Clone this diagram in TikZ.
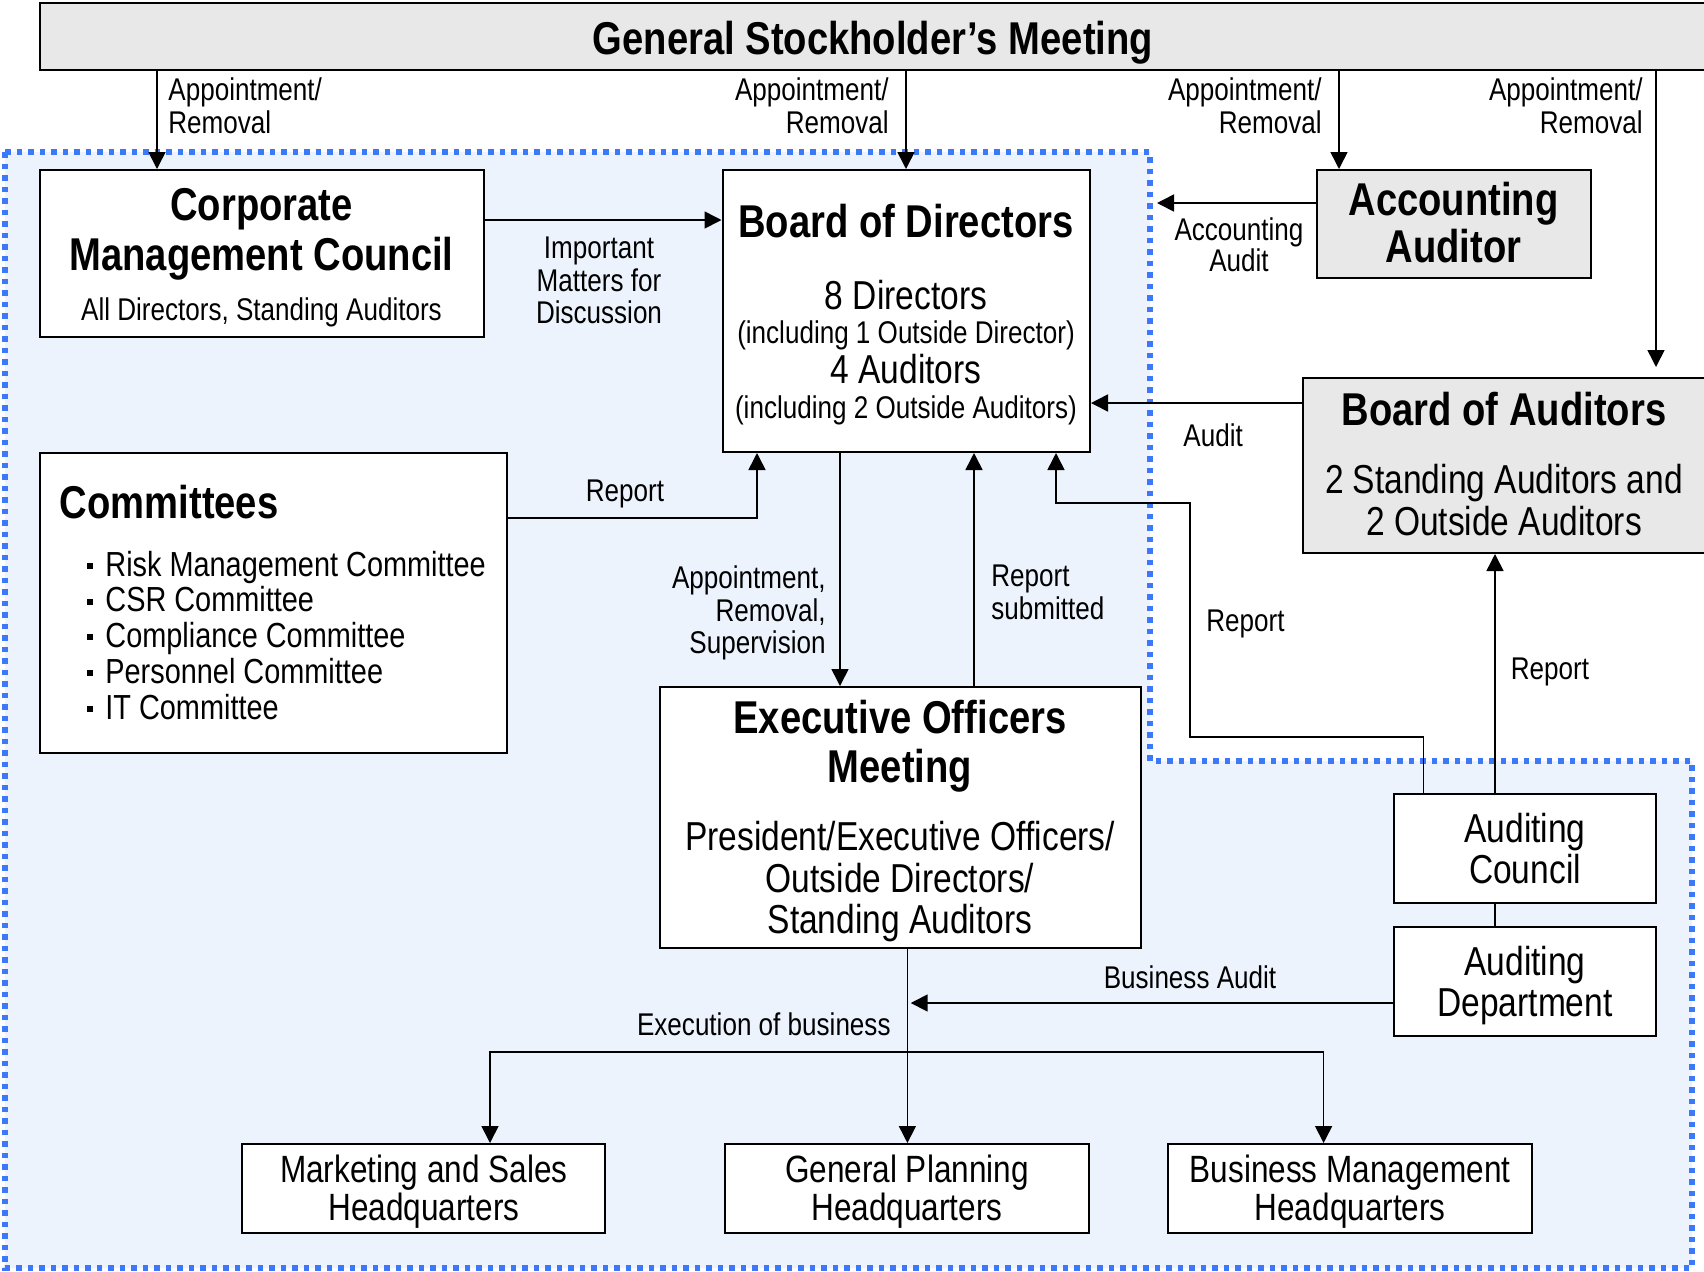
\documentclass[tikz,border=0pt]{standalone}
\usepackage{fontspec}
\setmainfont{Liberation Sans}[FakeStretch=0.83]
\usetikzlibrary{arrows.meta,fit}
\definecolor{dotblue}{RGB}{60,120,250}
\definecolor{regionfill}{RGB}{236,243,253}
\definecolor{boxgray}{RGB}{232,232,232}
\newcommand\ftitle{\fontsize{23}{24}\selectfont\bfseries}
\newcommand\flab{\fontsize{15.7}{16}\selectfont}
\newcommand\fmid{\fontsize{20.2}{20.5}\selectfont}
\newcommand\fbul{\fontsize{17.4}{18}\selectfont}
\newcommand\fhq{\fontsize{19}{19}\selectfont}
\newcommand\bul{\raisebox{3.6pt}{\rule{3pt}{3pt}}\hspace{6pt}}
\begin{document}
\begin{tikzpicture}[x=0.5pt,y=-0.5pt,
  box/.style={draw=black,line width=1pt,fill=white,rectangle,inner sep=0pt},
  graybox/.style={box,fill=boxgray},
  conn/.style={line width=0.8pt},
  arr/.style={conn,-{Triangle[length=8.5pt,width=8.5pt]}},
  tc/.style={inner sep=0pt,anchor=base},
  tl/.style={inner sep=0pt,anchor=base west},
  tr/.style={inner sep=0pt,anchor=base east}]
\clip (0,0) rectangle (1704,1271);
% region
\path[fill=regionfill] (5,152) -- (1150,152) -- (1150,761) -- (1692,761) -- (1692,1268) -- (5,1268) -- cycle;
\draw[dotblue,line width=2.75pt,dash pattern=on 2.75pt off 3pt] (5,152) -- (1150,152) -- (1150,761) -- (1692,761) -- (1692,1268) -- (5,1268) -- cycle;
% boxes
\node[graybox,fit={(40,3) (1720,70)}] (gsm) {};
\node[box,fit={(39.5,170) (483.5,337)}] (cmc) {};
\node[box,fit={(722.5,170) (1090,452)}] (bod) {};
\node[graybox,fit={(1316.5,170) (1590.5,278)}] (aa) {};
\node[graybox,fit={(1303,378) (1720,553)}] (boa) {};
\node[box,fit={(39.5,453) (507,753)}] (com) {};
\node[box,fit={(659.6,687) (1141,947.6)}] (eom) {};
\node[box,fit={(1394,794.4) (1656,903)}] (ac) {};
\node[box,fit={(1394,927) (1656,1035.6)}] (ad) {};
\node[box,fit={(242.3,1144) (605.3,1233)}] (mkt) {};
\node[box,fit={(724.8,1144) (1088.9,1233)}] (gp) {};
\node[box,fit={(1168.2,1144) (1532.2,1233)}] (bm) {};
% helper coordinates
\coordinate (xa) at (157,0);
\coordinate (xb) at (906,0);
\coordinate (xc) at (1339,0);
\coordinate (xd) at (1656,0);
\coordinate (ycmc) at (0,220);
\coordinate (aatip) at (1157,203);
\coordinate (yboa) at (0,403);
\coordinate (crep) at (757,518);
\coordinate (xdown) at (840,0);
\coordinate (xup) at (974,0);
\coordinate (r1) at (1423.6,737);
\coordinate (r2) at (1190,503);
\coordinate (xr3) at (1056,0);
\coordinate (xacb) at (1495,0);
\coordinate (batip) at (910.7,1003);
\coordinate (hx) at (907.4,1052);
\coordinate (hl) at (490,1052);
\coordinate (hr) at (1323.6,1052);
% connectors
\draw[arr] (gsm.south -| xa) -- (cmc.north -| xa);
\draw[arr] (gsm.south -| xb) -- (bod.north -| xb);
\draw[arr] (gsm.south -| xc) -- (aa.north -| xc);
\draw[arr,shorten >=5pt] (gsm.south -| xd) -- (boa.north -| xd);
\draw[arr] (cmc.east |- ycmc) -- (bod.west |- ycmc);
\draw[arr] (aa.west |- aatip) -- (aatip);
\draw[arr] (boa.west |- yboa) -- (bod.east |- yboa);
\draw[arr] (com.east |- crep) -| (bod.south -| crep);
\draw[arr] (bod.south -| xdown) -- (eom.north -| xdown);
\draw[arr] (eom.north -| xup) -- (bod.south -| xup);
\draw[arr] (ac.north -| r1) -- (r1) -| (r2) -| (bod.south -| xr3);
\draw[arr] (ac.north -| xacb) -- (boa.south -| xacb);
\draw[conn] (ac.south -| xacb) -- (ad.north -| xacb);
\draw[arr] (ad.west |- batip) -- (batip);
\draw[arr] (eom.south -| hx) -- (gp.north -| hx);
\draw[arr] (hx) -- (hl) -- (mkt.north -| hl);
\draw[arr] (hx) -- (hr) -- (bm.north -| hr);
% texts
\node[tc] (t1) at (873,54) {\ftitle General Stockholder’s Meeting};
\node[tl] (t2) at (168,100) {\flab Appointment/};
\node[tl] (t3) at (168,133) {\flab Removal};
\node[tr] (t4) at (889,100) {\flab Appointment/};
\node[tr] (t5) at (889,133) {\flab Removal};
\node[tr] (t6) at (1322,100) {\flab Appointment/};
\node[tr] (t7) at (1322,133) {\flab Removal};
\node[tr] (t8) at (1643,100) {\flab Appointment/};
\node[tr] (t9) at (1643,133) {\flab Removal};
\node[tc] (t10) at (261.5,220) {\ftitle Corporate};
\node[tc] (t11) at (261.5,270) {\ftitle Management Council};
\node[tc] (t12) at (261.5,320) {\flab All Directors, Standing Auditors};
\node[tc] (t13) at (599,258) {\flab Important};
\node[tc] (t14) at (599,291) {\flab Matters for};
\node[tc] (t15) at (599,323) {\flab Discussion};
\node[tc] (t16) at (906,237) {\ftitle Board of Directors};
\node[tc] (t17) at (906,309) {\fmid 8 Directors};
\node[tc] (t18) at (906,343) {\flab (including 1 Outside Director)};
\node[tc] (t19) at (906,383.5) {\fmid 4 Auditors};
\node[tc] (t20) at (906,418) {\flab (including 2 Outside Auditors)};
\node[tc] (t21) at (1453.5,215) {\ftitle Accounting};
\node[tc] (t22) at (1453.5,262) {\ftitle Auditor};
\node[tc] (t23) at (1239,240) {\flab Accounting};
\node[tc] (t24) at (1239,271) {\flab Audit};
\node[tc] (t25) at (1504,425) {\ftitle Board of Auditors};
\node[tc] (t26) at (1504,493) {\fmid 2 Standing Auditors and};
\node[tc] (t27) at (1504,535) {\fmid 2 Outside Auditors};
\node[tl] (t28) at (1183,446) {\flab Audit};
\node[tl] (t29) at (59.5,518) {\ftitle Committees};
\node[tl] (t30) at (87,576) {\fbul\bul Risk Management Committee};
\node[tl] (t31) at (87,611.7) {\fbul\bul CSR Committee};
\node[tl] (t32) at (87,647.3) {\fbul\bul Compliance Committee};
\node[tl] (t33) at (87,683.3) {\fbul\bul Personnel Committee};
\node[tl] (t34) at (87,719.3) {\fbul\bul IT Committee};
\node[tc] (t35) at (625,501) {\flab Report};
\node[tr] (t36) at (826,588) {\flab Appointment,};
\node[tr] (t37) at (826,621) {\flab Removal,};
\node[tr] (t38) at (826,653) {\flab Supervision};
\node[tl] (t39) at (991,586) {\flab Report};
\node[tl] (t40) at (991,619) {\flab submitted};
\node[tl] (t41) at (1206,631.5) {\flab Report};
\node[tl] (t42) at (1510.5,679) {\flab Report};
\node[tc] (t43) at (900,733.5) {\ftitle Executive Officers};
\node[tc] (t44) at (900,782.5) {\ftitle Meeting};
\node[tc] (t45) at (900,850) {\fmid President/Executive Officers/};
\node[tc] (t46) at (900,892) {\fmid Outside Directors/};
\node[tc] (t47) at (900,933) {\fmid Standing Auditors};
\node[tc] (t48) at (1525,842.5) {\fmid Auditing};
\node[tc] (t49) at (1525,883.5) {\fmid Council};
\node[tc] (t50) at (1525,975) {\fmid Auditing};
\node[tc] (t51) at (1525,1016) {\fmid Department};
\node[tc] (t52) at (1190,988) {\flab Business Audit};
\node[tr] (t53) at (891,1035) {\flab Execution of business};
\node[tc] (t54) at (423.8,1182) {\fhq Marketing and Sales};
\node[tc] (t55) at (423.8,1220) {\fhq Headquarters};
\node[tc] (t56) at (906.9,1182) {\fhq General Planning};
\node[tc] (t57) at (906.9,1220) {\fhq Headquarters};
\node[tc] (t58) at (1350.2,1182) {\fhq Business Management};
\node[tc] (t59) at (1350.2,1220) {\fhq Headquarters};
\end{tikzpicture}
\end{document}
